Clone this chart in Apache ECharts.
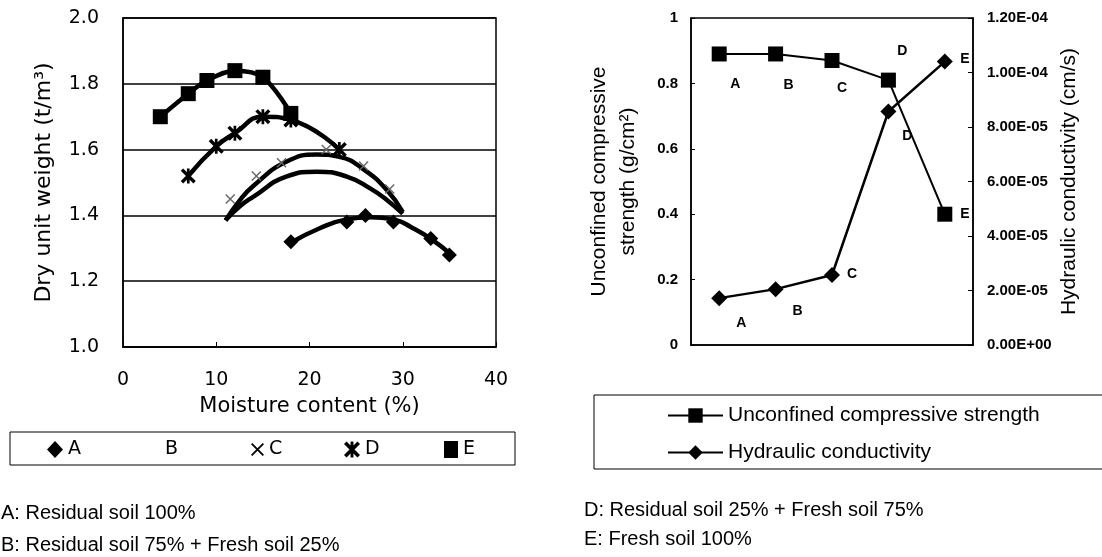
<!DOCTYPE html>
<html>
<head>
<meta charset="utf-8">
<script src="https://cdn.jsdelivr.net/npm/echarts@6/dist/echarts.min.js"></script>
<style>
html,body{margin:0;padding:0;background:#fff;}
#main{width:1102px;height:557px;}
</style>
</head>
<body>
<div id="main"></div>
<script>
// ---------- Data ----------
// Left chart: dry unit weight (t/m3) vs moisture content (%)
const A_x = [18, 24, 26, 29, 33, 35];
const A_y = [1.32, 1.38, 1.40, 1.38, 1.33, 1.28];
const A_trend_x = [18, 21.1, 24, 26.5, 29, 31.1, 33.1, 35.1];
const A_trend_y = [1.317, 1.361, 1.388, 1.394, 1.388, 1.361, 1.327, 1.283];
const B_trend_x = [11, 12.5, 14, 17.5, 20.8, 24, 26.5, 28.3, 30];
const B_trend_y = [1.385, 1.427, 1.457, 1.518, 1.533, 1.518, 1.482, 1.447, 1.405];
const C_x = [11.5, 14.3, 17, 21.8, 25.8, 28.6];
const C_y = [1.45, 1.52, 1.56, 1.60, 1.55, 1.48];
const C_trend_x = [11, 12.5, 14, 17.5, 20.8, 23.2, 25.8, 28.3, 30];
const C_trend_y = [1.385, 1.445, 1.49, 1.563, 1.585, 1.578, 1.54, 1.477, 1.41];
const D_x = [7, 10, 12, 15, 18, 23.2];
const D_y = [1.52, 1.61, 1.65, 1.70, 1.69, 1.60];
const E_x = [4, 7, 9, 12, 15, 18];
const E_y = [1.70, 1.77, 1.81, 1.84, 1.82, 1.71];
const legendNames = ['A', 'B', 'C', 'D', 'E'];

// Right chart
const mixes = ['A', 'B', 'C', 'D', 'E'];
const ucs = [0.89, 0.89, 0.87, 0.81, 0.40];
const hc = [1.72e-5, 2.05e-5, 2.57e-5, 8.57e-5, 1.04e-4];

const notesLeft = ['A: Residual soil 100%', 'B: Residual soil 75% + Fresh soil 25%'];
const notesRight = ['D: Residual soil 25% + Fresh soil 75%', 'E: Fresh soil 100%'];

// ---------- Build ----------
const zip = (xs, ys) => xs.map((x, i) => [x, ys[i]]);
const X_PATH = 'path://M0,1L1,0L10,9L9,10ZM9,0L10,1L1,10L0,9Z';
const AST_PATH = 'path://M0,1.6L1.6,0L10,8.4L8.4,10ZM8.4,0L10,1.6L1.6,10L0,8.4ZM4.1,0L5.9,0L5.9,10L4.1,10Z';
const LF = 'DejaVu Sans';
const RF = 'Liberation Sans, Arial, sans-serif';

const ucsOffsets = [[16, 30], [13, 31], [10, 28], [14, -29], [20, 0]];
const hcOffsets = [[22, 25], [22, 22], [20, -1], [19, 25], [20, -2]];

function labelled(values, offsets) {
  return values.map((v, i) => ({
    value: v,
    label: { show: true, position: 'inside', offset: offsets[i], formatter: mixes[i],
      fontFamily: RF, fontWeight: 'bold', fontSize: 14, color: '#000' }
  }));
}

const leftLegendPos = [
  { name: 'A', icon: 'diamond', left: 47, w: 16 },
  { name: 'B', icon: 'none', left: 160, w: 0 },
  { name: 'C', icon: X_PATH, left: 251, w: 13 },
  { name: 'D', icon: AST_PATH, left: 344, w: 16 },
  { name: 'E', icon: 'rect', left: 444, w: 14 }
];

const trendLine = (name, xs, ys) => ({
  name, type: 'line', xAxisIndex: 0, yAxisIndex: 0, data: zip(xs, ys),
  smooth: 0.5, showSymbol: false, symbol: 'none',
  lineStyle: { color: '#000', width: 4.5 }, itemStyle: { color: '#000' }, z: 2
});

const option = {
  animation: false,
  backgroundColor: '#fff',
  grid: [
    { left: 123, top: 18, width: 373, height: 329, show: true, borderColor: '#000', borderWidth: 1.5, backgroundColor: 'transparent' },
    { left: 691, top: 18, width: 282, height: 327, show: true, borderColor: '#000', borderWidth: 1.5, backgroundColor: 'transparent' }
  ],
  xAxis: [
    { gridIndex: 0, type: 'value', min: 0, max: 40, interval: 10,
      name: 'Moisture content (%)', nameLocation: 'middle', nameGap: 49,
      nameTextStyle: { fontFamily: LF, fontSize: 21, color: '#000' },
      axisLine: { lineStyle: { color: '#000', width: 1.5 } },
      axisTick: { inside: true, length: 5, lineStyle: { color: '#000' } },
      axisLabel: { fontFamily: LF, fontSize: 19, color: '#000', margin: 24 },
      splitLine: { show: false } },
    { gridIndex: 1, type: 'category', data: mixes, boundaryGap: true,
      axisLine: { lineStyle: { color: '#000', width: 1.5 } },
      axisTick: { inside: true, length: 4, lineStyle: { color: '#000' } },
      axisLabel: { show: false } }
  ],
  yAxis: [
    { gridIndex: 0, type: 'value', min: 1, max: 2, interval: 0.2,
      name: 'Dry unit weight (t/m³)', nameLocation: 'middle', nameGap: 68, nameRotate: 90,
      nameTextStyle: { fontFamily: LF, fontSize: 22, color: '#000' },
      axisLine: { show: true, lineStyle: { color: '#000', width: 1.5 } },
      axisTick: { show: false },
      axisLabel: { fontFamily: LF, fontSize: 19, color: '#000', margin: 24, formatter: v => v.toFixed(1) },
      splitLine: { show: true, lineStyle: { color: '#000', width: 1.5 } } },
    { gridIndex: 1, type: 'value', min: 0, max: 1, interval: 0.2, position: 'left',
      name: 'Unconfined compressive\nstrength (g/cm²)', nameLocation: 'middle', nameGap: 48, nameRotate: 90,
      nameTextStyle: { fontFamily: RF, fontSize: 21, color: '#000', lineHeight: 29 },
      axisLine: { show: true, lineStyle: { color: '#000', width: 1.5 } },
      axisTick: { show: true, inside: true, length: 4, lineStyle: { color: '#000' } },
      axisLabel: { fontFamily: RF, fontSize: 15, fontWeight: 'bold', color: '#000', margin: 13,
        formatter: v => (v === 0 ? '0' : Math.abs(v - 1) < 1e-9 ? '1' : v.toFixed(1)) },
      splitLine: { show: false } },
    { gridIndex: 1, type: 'value', min: 0, max: 1.2e-4, interval: 2e-5, position: 'right',
      name: 'Hydraulic conductivity (cm/s)', nameLocation: 'middle', nameGap: 86, nameRotate: 90,
      nameTextStyle: { fontFamily: RF, fontSize: 21, color: '#000' },
      axisLine: { show: true, lineStyle: { color: '#000', width: 1.5 } },
      axisTick: { show: true, inside: true, length: 5, lineStyle: { color: '#000' } },
      axisLabel: { fontFamily: RF, fontSize: 15, fontWeight: 'bold', color: '#000', margin: 14,
        formatter: v => v.toExponential(2).replace(/e([+-])(\d)$/, 'E$10$2').replace('e', 'E') },
      splitLine: { show: false } }
  ],
  legend: leftLegendPos.map(l => ({
    left: l.left, top: 440, padding: 0, itemGap: 0, selectedMode: false,
    itemWidth: l.w, itemHeight: 17,
    data: [{ name: l.name, icon: l.icon, itemStyle: { color: '#000', opacity: 1 } }],
    textStyle: { fontFamily: LF, fontSize: 19, color: '#000' }
  })).concat([{
    orient: 'vertical', left: 667, top: 405, padding: 0, itemGap: 16, selectedMode: false,
    itemWidth: 55, itemHeight: 18,
    data: ['Unconfined compressive strength', 'Hydraulic conductivity'],
    textStyle: { fontFamily: RF, fontSize: 21, color: '#000' }
  }]),
  series: [
    trendLine('B', B_trend_x, B_trend_y),
    trendLine('C', C_trend_x, C_trend_y),
    trendLine('A', A_trend_x, A_trend_y),
    { name: 'C', type: 'scatter', xAxisIndex: 0, yAxisIndex: 0, data: zip(C_x, C_y),
      symbol: X_PATH, symbolSize: 10, itemStyle: { color: '#666', opacity: 1 }, z: 3 },
    { name: 'A', type: 'scatter', xAxisIndex: 0, yAxisIndex: 0, data: zip(A_x, A_y),
      symbol: 'diamond', symbolSize: 15, itemStyle: { color: '#000', opacity: 1 }, z: 4 },
    { name: 'D', type: 'line', xAxisIndex: 0, yAxisIndex: 0, data: zip(D_x, D_y),
      smooth: 0.5, symbol: AST_PATH, symbolSize: 15, lineStyle: { color: '#000', width: 4.5 }, itemStyle: { color: '#000' }, z: 4 },
    { name: 'E', type: 'line', xAxisIndex: 0, yAxisIndex: 0, data: zip(E_x, E_y),
      smooth: 0.35, symbol: 'rect', symbolSize: 15, lineStyle: { color: '#000', width: 4.5 }, itemStyle: { color: '#000' }, z: 5 },
    { name: 'Unconfined compressive strength', type: 'line', xAxisIndex: 1, yAxisIndex: 1,
      data: labelled(ucs, ucsOffsets), symbol: 'rect', symbolSize: 15,
      lineStyle: { color: '#000', width: 2 }, itemStyle: { color: '#000' } },
    { name: 'Hydraulic conductivity', type: 'line', xAxisIndex: 1, yAxisIndex: 2,
      data: labelled(hc, hcOffsets), symbol: 'diamond', symbolSize: 16,
      lineStyle: { color: '#000', width: 2.5 }, itemStyle: { color: '#000' } }
  ],
  graphic: [
    { type: 'rect', shape: { x: 10, y: 432, width: 505, height: 33 }, style: { fill: 'none', stroke: '#000', lineWidth: 1 }, silent: true },
    { type: 'rect', shape: { x: 594, y: 395, width: 520, height: 74 }, style: { fill: 'none', stroke: '#000', lineWidth: 1 }, silent: true },
    { type: 'text', left: 1, top: 503, style: { text: notesLeft[0], font: '20px Liberation Sans', fill: '#000' } },
    { type: 'text', left: 1, top: 535, style: { text: notesLeft[1], font: '20px Liberation Sans', fill: '#000' } },
    { type: 'text', left: 584, top: 500, style: { text: notesRight[0], font: '20px Liberation Sans', fill: '#000' } },
    { type: 'text', left: 584, top: 529, style: { text: notesRight[1], font: '20px Liberation Sans', fill: '#000' } }
  ]
};

const chart = echarts.init(document.getElementById('main'), null, { renderer: 'canvas' });
chart.setOption(option);
</script>
</body>
</html>
